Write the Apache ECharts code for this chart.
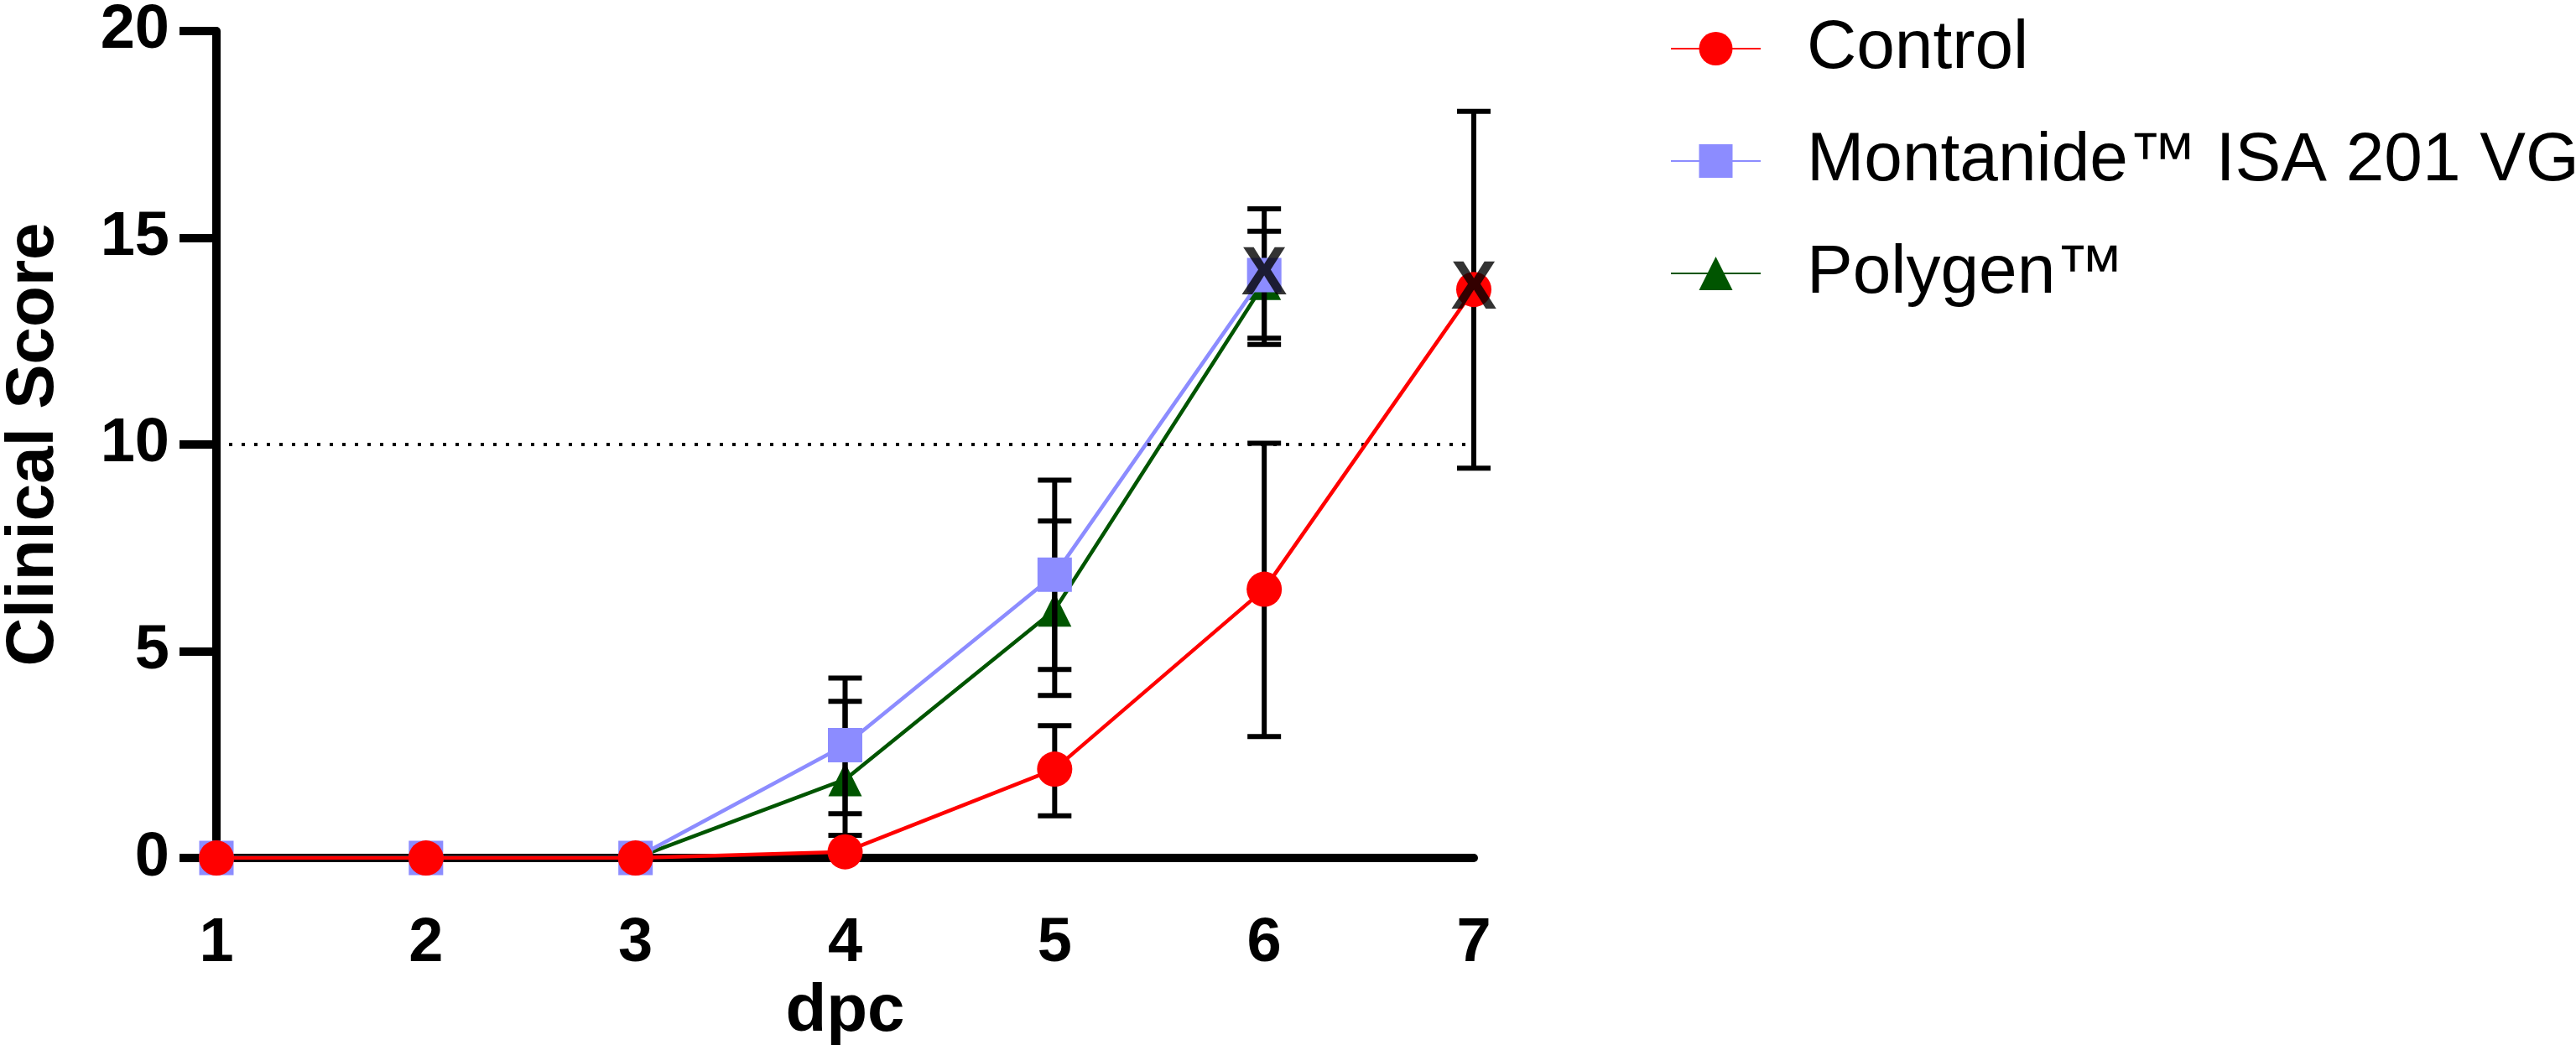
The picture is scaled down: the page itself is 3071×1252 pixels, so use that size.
<!DOCTYPE html>
<html>
<head>
<meta charset="utf-8">
<script src="https://cdn.jsdelivr.net/npm/echarts@6/dist/echarts.min.js"></script>
<style>
  html, body { margin: 0; padding: 0; background: #fff; }
  #chart { width: 3071px; height: 1252px; }
</style>
</head>
<body>
<div id="chart"></div>
<script>
    // clinical score per day post challenge (dpc)
    var days = [1, 2, 3, 4, 5, 6, 7];

    var control     = [0, 0, 0, 0.15, 2.15, 6.5, 13.75];
    var controlLow  = [null, null, null, null, 1.02, 2.94, 9.43];
    var controlHigh = [null, null, null, null, 3.2, 10.03, 18.06];

    var montanide     = [0, 0, 0, 2.73, 6.85, 14.1, null];
    var montanideLow  = [null, null, null, 1.07, 4.56, 12.42, null];
    var montanideHigh = [null, null, null, 4.35, 9.14, 15.7, null];

    var polygen     = [0, 0, 0, 1.9, 6.0, 13.9, null];
    var polygenLow  = [null, null, null, 0.55, 3.93, 12.57, null];
    var polygenHigh = [null, null, null, 3.79, 8.15, 15.16, null];

    // "X" marks (end of group)
    var endDays   = [6, 7];
    var endScores = [14.1, 13.75];

    var yTicks = [0, 5, 10, 15, 20];
    var threshold = 10;

    var FONT = "'Liberation Sans', Arial, sans-serif";

    function pairs(xs, ys) {
        var out = [];
        for (let i = 0; i < xs.length; i++) {
            if (ys[i] != null) out.push([xs[i], ys[i]]);
        }
        return out;
    }

    function bars(lo, hi) {
        var out = [];
        for (let i = 0; i < days.length; i++) {
            if (lo[i] != null) out.push([days[i], lo[i], hi[i]]);
        }
        return out;
    }

    var errData = bars(controlLow, controlHigh)
        .concat(bars(montanideLow, montanideHigh))
        .concat(bars(polygenLow, polygenHigh));

    function renderErrorBar(params, api) {
        var x = api.value(0);
        var lo = api.coord([x, api.value(1)]);
        var hi = api.coord([x, api.value(2)]);
        var half = 20;
        var st = { stroke: '#000', lineWidth: 6 };
        return {
            type: 'group',
            children: [
                { type: 'line', shape: { x1: lo[0], y1: lo[1], x2: hi[0], y2: hi[1] }, style: st },
                { type: 'line', shape: { x1: lo[0] - half, y1: lo[1], x2: lo[0] + half, y2: lo[1] }, style: st },
                { type: 'line', shape: { x1: hi[0] - half, y1: hi[1], x2: hi[0] + half, y2: hi[1] }, style: st }
            ]
        };
    }

    var chart = echarts.init(document.getElementById('chart'));

    var option = {
        animation: false,
        backgroundColor: '#fff',
        grid: { left: 251, right: 1314, top: 27, bottom: 224 },
        legend: {
            orient: 'vertical',
            left: 1986,
            top: 12,
            itemWidth: 107,
            itemHeight: 50,
            itemGap: 52,
            data: ['Control', 'Montanide™ ISA 201 VG', 'Polygen™'],
            textStyle: { fontFamily: FONT, fontSize: 82, color: '#000', padding: [0, 0, 0, 50] }
        },
        xAxis: {
            type: 'value',
            min: 1,
            max: 7,
            interval: 1,
            name: 'dpc',
            nameLocation: 'middle',
            nameGap: 139,
            nameTextStyle: { fontFamily: FONT, fontSize: 80, fontWeight: 'bold', color: '#000' },
            axisLine: { lineStyle: { color: '#000', width: 10 } },
            axisTick: { show: false },
            axisLabel: { margin: 65, fontFamily: FONT, fontSize: 74, fontWeight: 'bold', color: '#000' },
            splitLine: { show: false }
        },
        yAxis: {
            type: 'value',
            min: yTicks[0],
            max: yTicks[yTicks.length - 1],
            interval: 5,
            name: 'Clinical Score',
            nameLocation: 'middle',
            nameGap: 177,
            nameTextStyle: { fontFamily: FONT, fontSize: 80, fontWeight: 'bold', color: '#000' },
            axisLine: { show: true, lineStyle: { color: '#000', width: 10 } },
            axisTick: { show: true, length: 44, lineStyle: { color: '#000', width: 10 } },
            axisLabel: { margin: 56, fontFamily: FONT, fontSize: 74, fontWeight: 'bold', color: '#000' },
            splitLine: { show: false }
        },
        series: [
            {
                name: 'Polygen™',
                type: 'line',
                z: 2,
                data: pairs(days, polygen),
                symbol: 'triangle',
                symbolSize: 40,
                color: '#005500',
                lineStyle: { color: '#005500', width: 4.5 },
                itemStyle: { color: '#005500' }
            },
            {
                name: 'errors',
                type: 'custom',
                z: 3,
                renderItem: renderErrorBar,
                encode: { x: 0, y: [1, 2] },
                data: errData
            },
            {
                name: 'Montanide™ ISA 201 VG',
                type: 'line',
                z: 4,
                data: pairs(days, montanide),
                symbol: 'rect',
                symbolSize: 41,
                color: '#8C8CFF',
                lineStyle: { color: '#8C8CFF', width: 4.5 },
                itemStyle: { color: '#8C8CFF' }
            },
            {
                name: 'Control',
                type: 'line',
                z: 5,
                data: pairs(days, control),
                symbol: 'circle',
                symbolSize: 42,
                color: '#FF0000',
                lineStyle: { color: '#FF0000', width: 4.5 },
                itemStyle: { color: '#FF0000' },
                markLine: {
                    silent: true,
                    symbol: 'none',
                    label: { show: false },
                    lineStyle: { color: '#000', width: 4, type: [4, 11] },
                    data: [{ yAxis: threshold }]
                }
            },
            {
                name: 'end',
                type: 'scatter',
                z: 6,
                symbolSize: 1,
                itemStyle: { color: 'rgba(0,0,0,0)' },
                label: {
                    show: true,
                    position: 'inside',
                    formatter: 'X',
                    fontFamily: FONT,
                    fontSize: 82,
                    fontWeight: 'bold',
                    color: '#000'
                },
                data: pairs(endDays, endScores)
            }
        ]
    };

    chart.setOption(option);
</script>
</body>
</html>
